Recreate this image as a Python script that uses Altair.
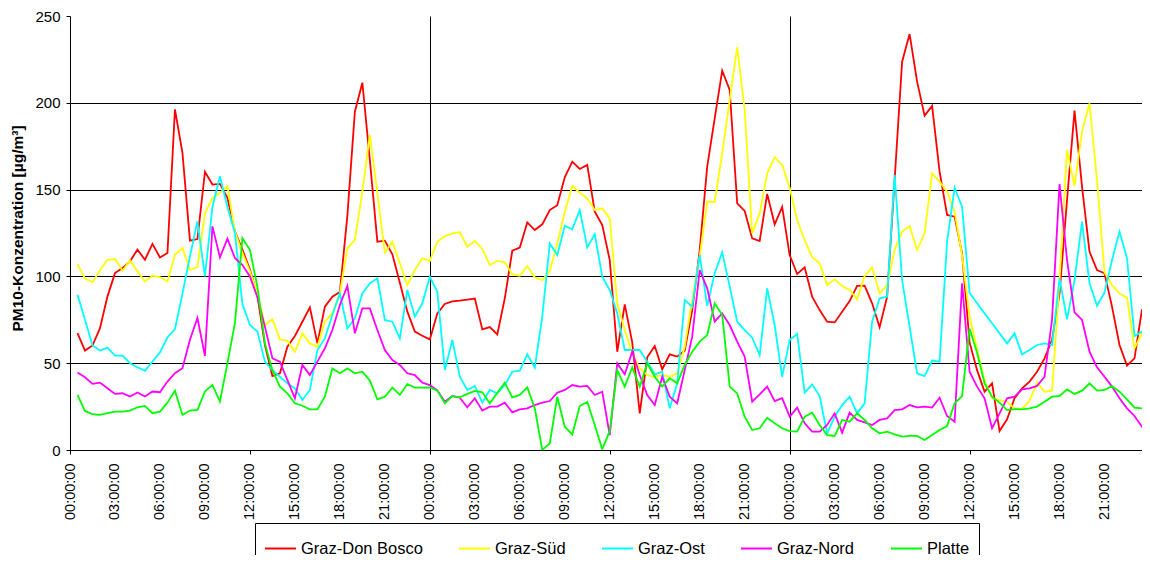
import altair as alt
import pandas as pd

# half-hourly time stamps (hours since start of day 1), 00:30 ... 72:00
hours = [i * 0.5 for i in range(1, 145)]

series_names = ["Graz-Don Bosco", "Graz-Süd", "Graz-Ost", "Graz-Nord", "Platte"]
series_colors = ["#FF0000", "#FFFF00", "#00FFFF", "#FF00FF", "#00FF00"]

don_bosco = [
    67.3, 57.3, 60.2, 70.2, 88.5, 101.9, 104.8, 108.7, 115.4, 109.6, 118.7, 110.9,
    113.5, 196.2, 171.2, 120.6, 121.5, 160.2, 152.9, 153.3, 145.2, 125.9, 115.4, 104.0,
    89.0, 60.5, 42.6, 44.2, 59.5, 65.7, 73.9, 82.2, 61.4, 82.6, 88.3, 91.0,
    135.0, 194.9, 211.6, 167.0, 120.0, 120.6, 112.7, 96.4, 79.7, 68.2, 65.8, 63.7,
    78.7, 84.1, 85.6, 86.0, 86.6, 87.2, 69.5, 70.8, 66.6, 87.4, 114.8, 116.6,
    131.1, 126.7, 130.0, 138.2, 141.0, 157.1, 166.1, 161.9, 164.2, 137.3, 129.6, 109.4,
    56.6, 83.9, 62.0, 21.1, 53.4, 59.9, 46.5, 55.1, 53.8, 57.2, 80.6, 115.2,
    163.2, 191.0, 218.5, 207.4, 142.1, 137.7, 121.9, 120.4, 147.5, 130.0, 140.0, 112.3,
    101.4, 105.2, 88.3, 80.6, 73.9, 73.5, 79.7, 85.8, 94.5, 94.7, 84.5, 70.7,
    88.3, 155.5, 223.7, 239.6, 212.2, 192.6, 198.2, 160.3, 135.4, 134.4, 113.3, 62.0,
    46.0, 33.6, 38.4, 10.9, 17.7, 29.8, 35.5, 39.4, 45.1, 52.8, 63.4, 90.2,
    144.0, 195.5, 151.7, 114.2, 103.7, 101.8, 82.6, 60.5, 48.6, 52.8, 81.0, 62.0,
]

sued = [
    107.1, 98.7, 96.7, 103.5, 109.6, 110.0, 103.3, 109.2, 102.9, 97.1, 100.4, 99.6,
    97.1, 112.5, 116.3, 103.8, 105.4, 136.5, 145.2, 148.1, 151.9, 125.9, 113.5, 103.0,
    90.2, 72.0, 75.3, 63.7, 62.9, 56.5, 67.2, 61.4, 59.5, 74.0, 78.8, 90.2,
    116.2, 121.0, 148.8, 181.5, 148.0, 113.7, 120.0, 107.5, 95.0, 103.7, 110.4, 109.0,
    119.9, 123.2, 124.8, 125.4, 117.1, 120.4, 115.8, 106.6, 108.9, 108.1, 101.2, 100.4,
    106.0, 99.4, 97.9, 103.1, 119.0, 137.1, 152.1, 148.2, 145.0, 138.2, 139.2, 133.4,
    84.5, 69.1, 55.7, 47.0, 43.2, 41.9, 43.2, 42.2, 44.2, 59.5, 86.4, 111.4,
    143.0, 143.0, 170.9, 201.6, 232.0, 195.9, 124.8, 136.3, 159.4, 168.6, 164.2, 151.0,
    132.5, 121.0, 111.0, 107.5, 95.0, 98.3, 94.5, 92.2, 86.8, 100.2, 105.2, 90.2,
    95.0, 115.2, 125.8, 129.0, 115.2, 124.8, 159.4, 154.6, 148.8, 137.3, 112.0, 77.0,
    58.0, 40.0, 29.8, 28.8, 27.8, 24.0, 23.6, 28.4, 38.8, 33.6, 34.2, 97.9,
    172.8, 152.1, 183.4, 199.7, 155.5, 102.2, 95.0, 90.2, 87.7, 58.6, 67.2, 73.0,
]

ost = [
    89.4, 75.0, 60.2, 57.3, 59.0, 54.4, 54.4, 50.0, 47.7, 45.6, 51.0, 56.2,
    64.8, 69.6, 90.0, 111.5, 131.7, 100.0, 140.0, 157.7, 140.0, 125.0, 84.0, 72.0,
    68.2, 50.9, 46.0, 42.2, 38.4, 35.5, 28.8, 34.6, 57.6, 64.3, 77.8, 90.2,
    70.0, 75.8, 90.2, 96.0, 98.9, 74.9, 73.9, 64.3, 92.2, 76.8, 84.5, 99.8,
    91.1, 46.0, 63.4, 42.2, 34.6, 36.9, 27.3, 34.6, 32.6, 37.4, 45.1, 45.7,
    55.1, 47.4, 76.8, 119.0, 112.3, 129.2, 127.1, 138.2, 116.7, 124.4, 99.8, 92.2,
    78.7, 57.6, 57.6, 57.6, 50.9, 43.6, 45.1, 24.0, 38.4, 86.4, 82.6, 112.3,
    83.0, 101.8, 113.9, 94.1, 73.9, 69.1, 64.7, 54.7, 93.1, 72.0, 42.2, 63.4,
    66.8, 33.0, 37.8, 31.1, 9.6, 19.2, 25.9, 30.7, 21.1, 26.9, 73.9, 87.4,
    88.3, 158.4, 97.9, 71.0, 44.2, 42.6, 51.5, 50.9, 120.0, 151.1, 140.2, 90.6,
    84.5, 78.7, 73.0, 67.2, 61.4, 67.2, 55.1, 57.6, 60.5, 61.4, 60.5, 98.9,
    75.3, 97.9, 131.5, 96.0, 83.1, 90.6, 109.4, 125.8, 110.4, 65.7, 68.2, 73.0,
]

nord = [
    44.6, 41.9, 38.1, 38.8, 35.6, 32.3, 32.7, 30.8, 33.1, 30.8, 33.7, 33.3,
    39.4, 44.2, 47.1, 63.5, 76.0, 54.2, 128.8, 111.0, 121.7, 110.6, 106.5, 100.0,
    88.0, 71.0, 52.8, 50.9, 40.3, 29.8, 49.0, 43.2, 50.9, 58.6, 69.1, 83.5,
    94.5, 67.2, 81.6, 81.6, 69.1, 57.6, 51.8, 49.0, 44.2, 43.2, 38.8, 37.4,
    34.4, 27.8, 31.1, 30.1, 24.6, 29.8, 22.7, 25.0, 25.0, 27.3, 21.7, 23.4,
    24.0, 25.9, 27.3, 28.2, 33.0, 34.6, 37.4, 36.5, 36.9, 31.7, 33.6, 8.6,
    49.9, 43.6, 56.6, 43.2, 31.7, 25.9, 42.2, 30.7, 26.9, 46.1, 65.3, 103.7,
    93.1, 73.9, 78.7, 72.0, 62.4, 53.8, 27.8, 32.1, 36.5, 28.2, 29.8, 19.2,
    24.4, 15.4, 10.6, 10.6, 14.4, 21.1, 10.0, 21.5, 17.3, 15.9, 14.4, 17.3,
    18.2, 23.0, 23.4, 25.9, 24.6, 25.0, 24.4, 30.1, 19.6, 16.3, 96.0, 45.1,
    36.5, 29.8, 12.5, 21.1, 29.8, 30.7, 34.9, 35.5, 36.9, 42.2, 75.0, 153.2,
    109.4, 79.3, 74.9, 56.6, 47.6, 42.2, 36.5, 29.8, 24.0, 19.6, 13.4, 6.7,
]

platte = [
    31.7, 22.5, 20.6, 20.2, 21.2, 22.1, 22.1, 22.7, 24.6, 25.4, 21.2, 22.1,
    27.3, 34.2, 20.2, 22.7, 23.1, 33.7, 37.5, 27.9, 50.0, 73.1, 122.0, 115.3,
    94.0, 61.4, 46.0, 36.5, 32.6, 26.9, 25.5, 23.4, 23.4, 30.7, 47.0, 44.2,
    47.0, 44.2, 45.1, 40.0, 29.2, 30.7, 35.9, 31.7, 38.0, 35.9, 35.9, 36.0,
    34.2, 26.9, 31.1, 30.3, 32.3, 34.0, 33.2, 26.9, 33.0, 38.8, 30.3, 31.7,
    36.1, 24.0, 0.0, 3.8, 30.7, 13.4, 9.0, 25.3, 27.8, 14.4, 0.4, 11.0,
    46.0, 36.5, 47.6, 36.5, 49.9, 42.2, 36.5, 41.3, 38.4, 49.0, 56.6, 62.4,
    66.2, 84.5, 77.8, 36.5, 32.6, 19.2, 11.5, 12.5, 18.6, 15.4, 12.5, 10.9,
    10.6, 19.2, 21.5, 14.4, 8.6, 8.1, 17.3, 16.3, 21.1, 17.3, 12.5, 9.6,
    10.6, 9.0, 7.7, 8.1, 8.1, 5.8, 8.6, 11.5, 13.8, 26.9, 31.0, 70.0,
    56.0, 38.4, 30.7, 27.3, 23.0, 23.6, 23.4, 24.0, 25.0, 27.8, 30.7, 31.1,
    34.9, 32.3, 34.2, 38.4, 34.2, 34.6, 36.9, 33.6, 29.2, 24.4, 24.0, 24.0,
]

y_ticks = [0, 50, 100, 150, 200, 250]
x_ticks = list(range(0, 72, 3))

rows = []
for name, vals in zip(series_names, [don_bosco, sued, ost, nord, platte]):
    for h, v in zip(hours, vals):
        rows.append({"t": h, "v": v, "s": name})
df = pd.DataFrame(rows)

FONT = "Liberation Sans"

x = alt.X(
    "t:Q",
    scale=alt.Scale(domain=[0, 71.5], nice=False, zero=False),
    axis=alt.Axis(
        values=x_ticks,
        title=None,
        labelAngle=270,
        labelFlush=False,
        labelExpr="(datum.value % 24 < 10 ? '0' : '') + (datum.value % 24) + ':00:00'",
        labelFont=FONT,
        labelFontSize=14.5,
        labelColor="black",
        labelPadding=9,
        labelOverlap=False,
        tickSize=4,
        tickColor="black",
        tickOpacity={"condition": {"test": "datum.value % 12 != 0", "value": 0}, "value": 1},
        grid=True,
        gridColor="black",
        gridWidth=1,
        gridOpacity={"condition": {"test": "datum.value % 24 == 0 && datum.value > 0", "value": 1}, "value": 0},
        domainColor="black",
        domainWidth=1,
    ),
)

y = alt.Y(
    "v:Q",
    scale=alt.Scale(domain=[0, 250], nice=False),
    axis=alt.Axis(
        values=y_ticks,
        title="PM10-Konzentration [µg/m³]",
        titleFont=FONT,
        titleFontSize=15.5,
        titleFontWeight="bold",
        titleColor="black",
        titleAngle=270,
        titleX=-53,
        titleY=212,
        titleAlign="center",
        titleBaseline="middle",
        labelFont=FONT,
        labelFontSize=15,
        labelColor="black",
        labelPadding=6,
        tickSize=4,
        tickColor="black",
        grid=True,
        gridColor="black",
        gridWidth=1,
        gridOpacity={"condition": {"test": "datum.value >= 250", "value": 0}, "value": 1},
        domainColor="black",
        domainWidth=1,
    ),
)

color = alt.Color(
    "s:N",
    scale=alt.Scale(domain=series_names, range=series_colors),
    sort=series_names,
    legend=alt.Legend(
        title=None,
        orient="none",
        direction="horizontal",
        legendX=185,
        legendY=507,
        symbolType="stroke",
        symbolSize=961,
        symbolStrokeWidth=2,
        labelFont=FONT,
        labelFontSize=16.5,
        labelColor="black",
        labelOffset=4,
        columnPadding=32,
        gridAlign="none",
        padding=9,
        strokeColor="black",
        fillColor="white",
    ),
)

chart = (
    alt.Chart(df)
    .mark_line(strokeWidth=1.8, clip=True)
    .encode(x=x, y=y, color=color, order=alt.Order("t:Q"))
    .properties(
        width=1072,
        height=434,
        autosize=alt.AutoSizeParams(type="none"),
        padding={"left": 62, "top": 8, "right": 0, "bottom": 105},
        background="white",
    )
    .configure_view(stroke=None)
)

chart.save("out.html", embed_options={"renderer": "svg", "actions": False})
